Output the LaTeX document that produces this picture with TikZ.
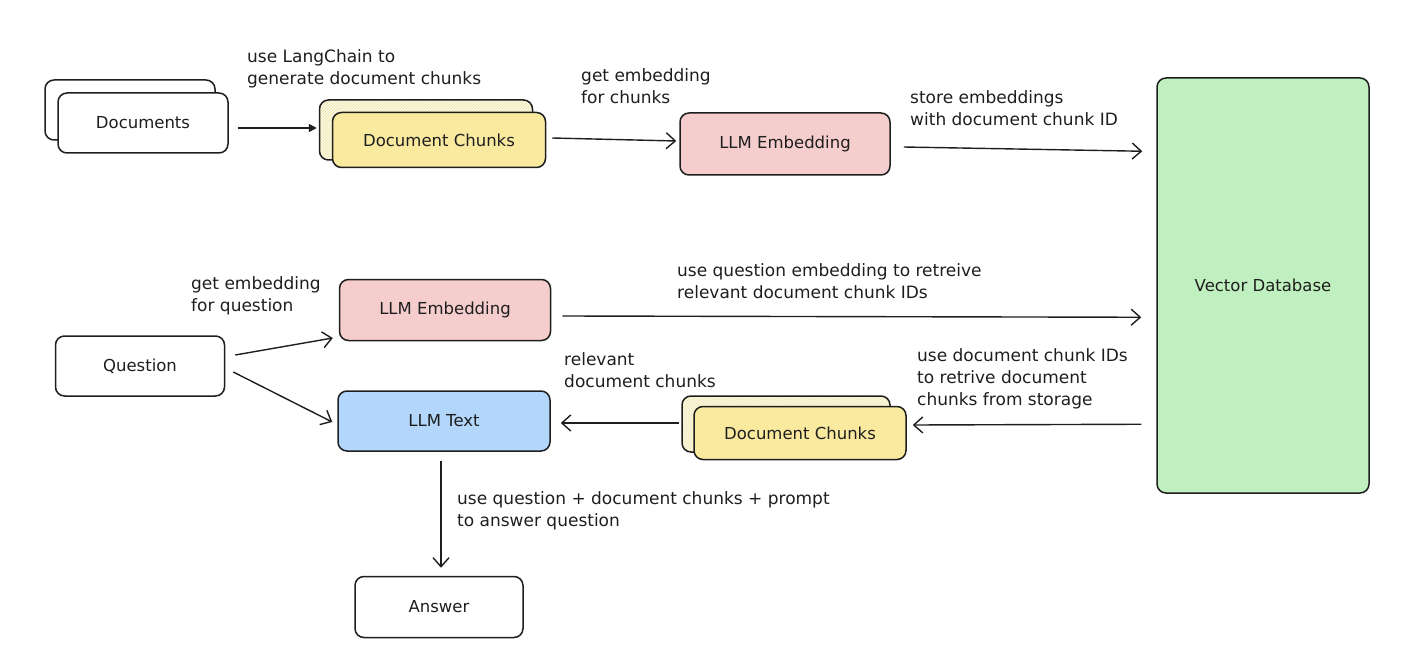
\documentclass[tikz,border=0pt]{standalone}
\usepackage{fontspec}
\setmainfont{DejaVu Sans}
\usetikzlibrary{arrows.meta,calc,patterns}
\definecolor{ink}{RGB}{30,30,30}
\definecolor{cyel}{RGB}{250,234,160}
\definecolor{cyellight}{RGB}{253,249,228}
\definecolor{cyelhatch}{RGB}{240,228,170}
\definecolor{cpink}{RGB}{246,205,205}
\definecolor{cblue}{RGB}{178,215,250}
\definecolor{cgreen}{RGB}{192,240,192}
\tikzset{
  box/.style={draw=ink, line width=1.5pt, rounded corners=9pt, fill=white,
    font=\fontsize{16.5}{20}\selectfont, text=ink, inner sep=0pt},
  backcard/.style={box, preaction={fill=cyellight}, pattern=north east lines, pattern color=cyelhatch},
  lbl/.style={font=\fontsize{17}{22}\selectfont, text=ink, align=left, anchor=west, inner sep=0pt},
  conn/.style={draw=ink, line width=1.4pt, -{Straight Barb[length=9pt,width=16pt,line width=1.4pt]}},
  connf/.style={draw=ink, line width=1.6pt, -{Triangle[length=8pt,width=8pt]}}
}
\begin{document}
\begin{tikzpicture}[x=1pt,y=-1pt]
\useasboundingbox (0,0) rectangle (1406,650);
% top row
\node[box, minimum width=170, minimum height=60] (docsback) at (130,110) {};
\node[box, minimum width=170, minimum height=60] (docs) at (143,123) {Documents};
\node[backcard, minimum width=213, minimum height=60] (chunksback) at (426,130) {};
\node[box, fill=cyel, minimum width=213, minimum height=55] (chunks) at (439,140) {Document Chunks};
\node[box, fill=cpink, minimum width=210, minimum height=62] (emb1) at (785,144) {LLM Embedding};
\node[box, fill=cgreen, minimum width=212, minimum height=415] (vdb) at (1263,285.5) {Vector Database};
% second part
\node[box, fill=cpink, minimum width=211, minimum height=61] (emb2) at (445,310) {LLM Embedding};
\node[box, minimum width=169, minimum height=60] (question) at (140,366) {Question};
\node[box, fill=cblue, minimum width=212, minimum height=60] (llmtext) at (444,421) {LLM Text};
\node[backcard, minimum width=208, minimum height=56] (chunks2back) at (786,424) {};
\node[box, fill=cyel, minimum width=212, minimum height=53] (chunks2) at (800,433) {Document Chunks};
\node[box, minimum width=168, minimum height=61] (answer) at (439,607) {Answer};
% connectors
\draw[connf] ($(docs.east)+(9,5)$) -- ($(chunksback.west)+(-2,-2)$);
\draw[conn] ($(chunks.east)+(6,-2)$) -- ($(emb1.west)+(-3,-3)$);
\draw[conn] ($(emb1.east)+(13,3)$) -- ($(vdb.north west)+(-14,74)$);
\draw[conn] ($(emb2.east)+(11,6)$) -- ($(vdb.north west)+(-15,240)$);
\draw[conn] ($(question.east)+(10,-11)$) -- ($(emb2.west)+(-6,28)$);
\draw[conn] ($(question.east)+(8,6)$) -- ($(llmtext.west)+(-5,1)$);
\draw[conn] ($(vdb.north west)+(-15,347)$) -- ($(chunks2.east)+(6,-8)$);
\draw[conn] ($(chunks2back.west)+(-2,-1)$) -- ($(llmtext.east)+(10,2)$);
\draw[conn] ($(llmtext.south)+(-3,9)$) -- ($(answer.north)+(2,-8)$);
% labels
\node[lbl] (l1) at (247,69) {use LangChain to\\generate document chunks};
\node[lbl] (l2) at (581,86) {get embedding\\for chunks};
\node[lbl] (l3) at (910,108) {store embeddings\\with document chunk ID};
\node[lbl] (l4) at (191,296) {get embedding\\for question};
\node[lbl] (l5) at (677,281) {use question embedding to retreive\\relevant document chunk IDs};
\node[lbl] (l6) at (564,370) {relevant\\document chunks};
\node[lbl] (l7) at (917,379) {use document chunk IDs\\to retrive document\\chunks from storage};
\node[lbl] (l8) at (457,511) {use question + document chunks + prompt\\to answer question};
\end{tikzpicture}
\end{document}
